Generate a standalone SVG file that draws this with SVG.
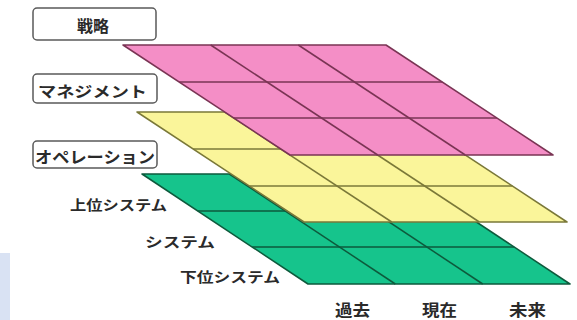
<svg xmlns="http://www.w3.org/2000/svg" width="577" height="320" viewBox="0 0 577 320">
<style>
  .lbl { font-family: "Noto Sans CJK JP", "Noto Sans", sans-serif; font-weight: bold; fill: #2a2a2a; }
  .box { fill: #ffffff; stroke: #5a5a5a; stroke-width: 1.5; }
  .pink { fill: #f48ec6; stroke: #7a3454; stroke-width: 1.5; stroke-linejoin: round; }
  .pinkl { stroke: #7a3454; stroke-width: 1.5; }
  .yel { fill: #faf59a; stroke: #7a7838; stroke-width: 1.5; stroke-linejoin: round; }
  .yell { stroke: #7a7838; stroke-width: 1.5; }
  .grn { fill: #16c48c; stroke: #0d5a3c; stroke-width: 1.5; stroke-linejoin: round; }
  .grnl { stroke: #0d5a3c; stroke-width: 1.5; }
</style>
<rect x="0" y="0" width="577" height="320" fill="#ffffff"/>
<rect x="0" y="253" width="10" height="67" fill="#d9e2f3"/>

<g id="layer-system">
  <polygon class="grn" points="142,174 404,174 570,284 308,284"/>
  <line class="grnl" x1="197.8" y1="211" x2="459.8" y2="211"/>
  <line class="grnl" x1="252.2" y1="247" x2="514.2" y2="247"/>
  <line class="grnl" x1="229.3" y1="174" x2="395.3" y2="284"/>
  <line class="grnl" x1="316.7" y1="174" x2="482.7" y2="284"/>
</g>

<g id="layer-operation">
  <polygon class="yel" points="137,112 400,112 567,222 304,222"/>
  <line class="yell" x1="193.2" y1="149" x2="456.2" y2="149"/>
  <line class="yell" x1="249.4" y1="186" x2="512.4" y2="186"/>
  <line class="yell" x1="224.7" y1="112" x2="391.7" y2="222"/>
  <line class="yell" x1="312.3" y1="112" x2="479.3" y2="222"/>
</g>

<g id="layer-strategy">
  <polygon class="pink" points="123,45 386,45 553,155 290,155"/>
  <line class="pinkl" x1="179.2" y1="82" x2="442.2" y2="82"/>
  <line class="pinkl" x1="233.9" y1="118" x2="496.9" y2="118"/>
  <line class="pinkl" x1="210.7" y1="45" x2="377.7" y2="155"/>
  <line class="pinkl" x1="298.3" y1="45" x2="465.3" y2="155"/>
</g>

<g id="box-senryaku">
  <rect class="box" x="33" y="8" width="123" height="32" rx="4"/>
  <text class="lbl" x="93" y="32" font-size="16" text-anchor="middle">戦略</text>
</g>
<g id="box-management">
  <rect class="box" x="33" y="74" width="124" height="29" rx="4"/>
  <text class="lbl" x="38" y="97" font-size="15" textLength="109" lengthAdjust="spacingAndGlyphs">マネジメント</text>
</g>
<g id="box-operation">
  <rect class="box" x="33" y="141" width="124" height="27" rx="4"/>
  <text class="lbl" x="35" y="163" font-size="16" textLength="120" lengthAdjust="spacingAndGlyphs">オペレーション</text>
</g>

<g id="row-labels">
  <text class="lbl" x="70" y="210" font-size="14" textLength="97" lengthAdjust="spacingAndGlyphs">上位システム</text>
  <text class="lbl" x="145" y="247" font-size="14" textLength="70" lengthAdjust="spacingAndGlyphs">システム</text>
  <text class="lbl" x="180" y="282" font-size="14" textLength="100" lengthAdjust="spacingAndGlyphs">下位システム</text>
</g>

<g id="col-labels">
  <text class="lbl" x="335" y="316" font-size="16" textLength="35" lengthAdjust="spacingAndGlyphs">過去</text>
  <text class="lbl" x="422" y="316" font-size="16" textLength="35" lengthAdjust="spacingAndGlyphs">現在</text>
  <text class="lbl" x="509" y="316" font-size="16" textLength="37" lengthAdjust="spacingAndGlyphs">未来</text>
</g>
</svg>
